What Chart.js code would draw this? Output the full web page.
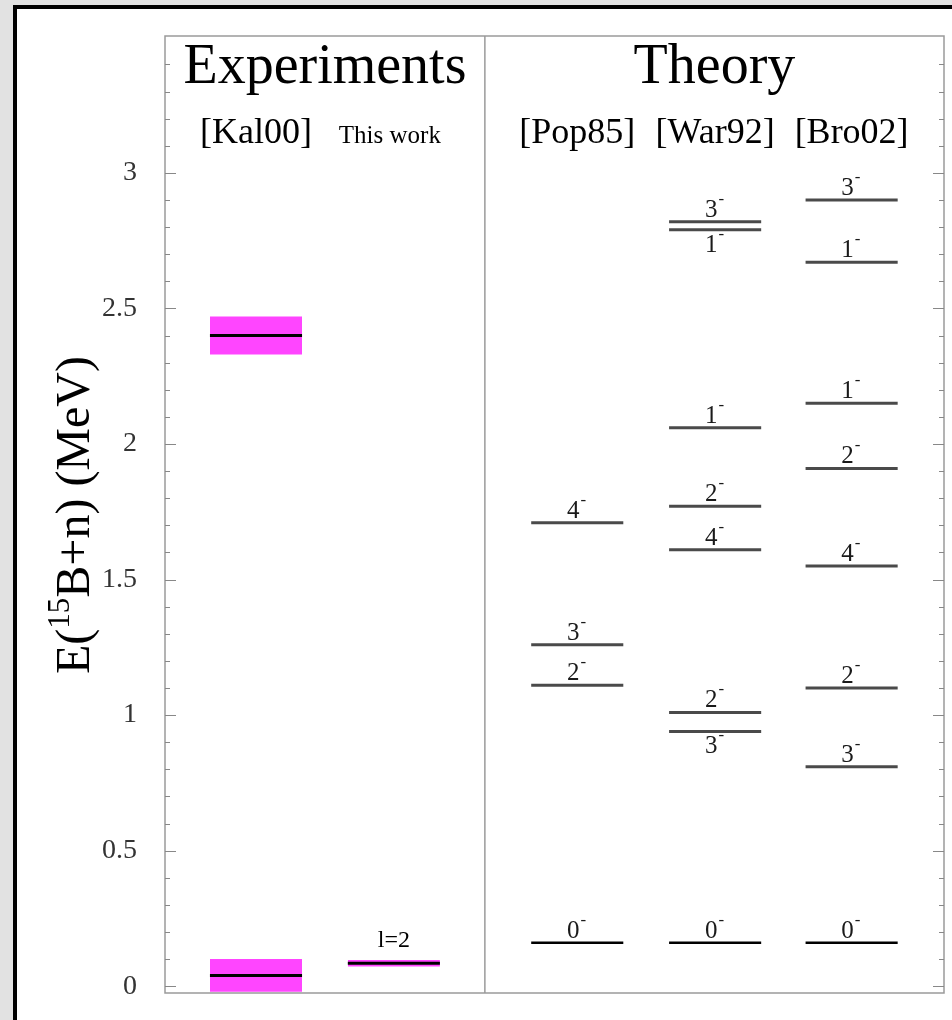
<!DOCTYPE html>
<html>
<head>
<meta charset="utf-8">
<script src="https://cdn.jsdelivr.net/npm/chart.js@4.4.1/dist/chart.umd.min.js"></script>
<style>
  html, body { margin: 0; padding: 0; background: #e2e2e2; overflow: hidden; }
  #frame { position: absolute; left: 13px; top: 5px; width: 960px; height: 1040px;
           border: 4px solid #000; background: #fff; }
  #wrap { position: absolute; left: 0; top: 0; width: 952px; height: 1020px; }
</style>
</head>
<body>
<div id="frame"></div>
<div id="wrap"><canvas id="levels"></canvas></div>
<script>
// columns of the level scheme
const columns = ["[Kal00]", "This work", "[Pop85]", "[War92]", "[Bro02]"];
const columnX = [0.66, 1.66, 2.99, 3.99, 4.98];
const dividerX = 2.32;

// experiments (MeV) with half widths of the bands
const kal00E = [2.40, 0.04];
const kal00Err = [0.07, 0.06];
const thisWorkE = [0.085];
const thisWorkErr = [0.012];
const thisWorkLabels = ["l=2"];

// theory levels and spins (all negative parity)
const pop85E = [0.16, 1.11, 1.26, 1.71];
const pop85J = ["0", "2", "3", "4"];
const war92E = [0.16, 0.94, 1.01, 1.61, 1.77, 2.06, 2.79, 2.82];
const war92J = ["0", "3", "2", "4", "2", "1", "1", "3"];
const bro02E = [0.16, 0.81, 1.10, 1.55, 1.91, 2.15, 2.67, 2.90];
const bro02J = ["0", "3", "2", "4", "2", "1", "1", "3"];

const yTicks = [0, 0.5, 1, 1.5, 2, 2.5, 3];

const HALF = 0.334;
const SERIF = "'Liberation Serif', 'DejaVu Serif', serif";

function levelLine(x, e, color, width) {
  return {
    data: [{ x: x - HALF, y: e }, { x: x + HALF, y: e }],
    showLine: true, borderColor: color, borderWidth: width,
    pointRadius: 0, fill: false
  };
}

function band(x, e, err) {
  // top edge filled down to the following (bottom edge) dataset
  return [
    { data: [{ x: x - HALF, y: e + err }, { x: x + HALF, y: e + err }],
      showLine: true, borderWidth: 0, pointRadius: 0,
      backgroundColor: "#ff45ff", fill: "+1" },
    { data: [{ x: x - HALF, y: e - err }, { x: x + HALF, y: e - err }],
      showLine: true, borderWidth: 0, pointRadius: 0, fill: false }
  ];
}

const theory = [
  { col: 2, e: pop85E, j: pop85J },
  { col: 3, e: war92E, j: war92J },
  { col: 4, e: bro02E, j: bro02J }
];

const datasets = [];
kal00E.forEach(e => datasets.push(levelLine(columnX[0], e, "#000", 3)));
thisWorkE.forEach(e => datasets.push(levelLine(columnX[1], e, "#000", 3)));
theory.forEach(t => t.e.forEach((e, i) => {
  const ground = t.j[i] === "0";
  datasets.push(levelLine(columnX[t.col], e, ground ? "#000" : "#4a4a4a", ground ? 2.5 : 3));
}));
kal00E.forEach((e, i) => datasets.push(...band(columnX[0], e, kal00Err[i])));
thisWorkE.forEach((e, i) => datasets.push(...band(columnX[1], e, thisWorkErr[i])));

function spinLabel(ctx, x, y, j, below) {
  ctx.font = "25px " + SERIF;
  const w = ctx.measureText(j).width;
  const total = w + 8;
  const x0 = x - total / 2;
  ctx.textAlign = "left";
  ctx.textBaseline = below ? "top" : "alphabetic";
  ctx.fillText(j, x0, y);
  ctx.font = "17px " + SERIF;
  const sy = below ? y - 7 : y - 13;
  ctx.fillText("-", x0 + w + 1, sy);
}

const decor = {
  id: "decor",
  afterDatasetsDraw(chart) {
    const { ctx, chartArea: a, scales: { x, y } } = chart;
    ctx.save();
    // plot frame and divider
    ctx.strokeStyle = "#9a9a9a";
    ctx.lineWidth = 1.5;
    ctx.strokeRect(a.left, a.top, a.right - a.left, a.bottom - a.top);
    const dx = x.getPixelForValue(dividerX);
    ctx.beginPath();
    ctx.moveTo(dx, a.top);
    ctx.lineTo(dx, a.bottom);
    ctx.stroke();
    // inward ticks on both sides, every 0.1
    ctx.lineWidth = 1;
    ctx.strokeStyle = "#888";
    for (let k = 0; k <= 34; k++) {
      const py = Math.round(y.getPixelForValue(k / 10)) + 0.5;
      const len = k % 5 === 0 ? 11 : 5;
      ctx.beginPath();
      ctx.moveTo(a.left, py); ctx.lineTo(a.left + len, py);
      ctx.moveTo(a.right, py); ctx.lineTo(a.right - len, py);
      ctx.stroke();
    }

    // headings
    ctx.fillStyle = "#000";
    ctx.textAlign = "center";
    ctx.textBaseline = "alphabetic";
    ctx.font = "56px " + SERIF;
    ctx.fillText("Experiments", (a.left + dx) / 2, 83);
    ctx.fillText("Theory", (dx + a.right) / 2, 83);
    columns.forEach((c, i) => {
      ctx.font = (i === 1 ? "25px " : "36px ") + SERIF;
      const cx = x.getPixelForValue(columnX[i]) - (i === 1 ? 4 : 0);
      ctx.fillText(c, cx, 143);
    });

    // experiment labels
    ctx.font = "24px " + SERIF;
    thisWorkE.forEach((e, i) => {
      ctx.fillText(thisWorkLabels[i], x.getPixelForValue(columnX[1]), y.getPixelForValue(e) - 16);
    });

    // spin labels
    ctx.fillStyle = "#1a1a1a";
    theory.forEach(t => t.e.forEach((e, i) => {
      const below = t.e.some(o => o > e && o - e < 0.1);
      const px = x.getPixelForValue(columnX[t.col]);
      const py = y.getPixelForValue(e);
      spinLabel(ctx, px, below ? py + 3 : py - 5, t.j[i], below);
    }));

    // y axis title with superscript mass number
    ctx.fillStyle = "#000";
    ctx.translate(89, 515);
    ctx.rotate(-Math.PI / 2);
    ctx.textAlign = "left";
    ctx.textBaseline = "alphabetic";
    const big = "48px " + SERIF, small = "31px " + SERIF;
    const parts = [["E(", big, 0], ["15", small, -20], ["B+n) (MeV)", big, 0]];
    let total = 0;
    parts.forEach(p => { ctx.font = p[1]; total += ctx.measureText(p[0]).width; });
    let cx = -total / 2;
    parts.forEach(p => {
      ctx.font = p[1];
      ctx.fillText(p[0], cx, p[2]);
      cx += ctx.measureText(p[0]).width;
    });
    ctx.restore();
  }
};

new Chart(document.getElementById("levels"), {
  type: "scatter",
  data: { datasets },
  options: {
    responsive: true,
    maintainAspectRatio: false,
    animation: false,
    layout: { padding: { top: 36, bottom: 27, right: 8, left: 0 } },
    plugins: { legend: { display: false }, tooltip: { enabled: false } },
    scales: {
      x: { type: "linear", min: 0, max: 5.65, display: false },
      y: {
        type: "linear", min: -0.025, max: 3.505,
        grid: { display: false, drawTicks: false },
        border: { display: false },
        afterBuildTicks: s => { s.ticks = yTicks.map(v => ({ value: v })); },
        afterFit: s => { s.width = 165; s.paddingTop = 0; s.paddingBottom = 0; },
        ticks: { padding: 28, color: "#333", font: { family: SERIF, size: 28 },
                 callback: v => String(v) }
      }
    }
  },
  plugins: [decor]
});
</script>
</body>
</html>
